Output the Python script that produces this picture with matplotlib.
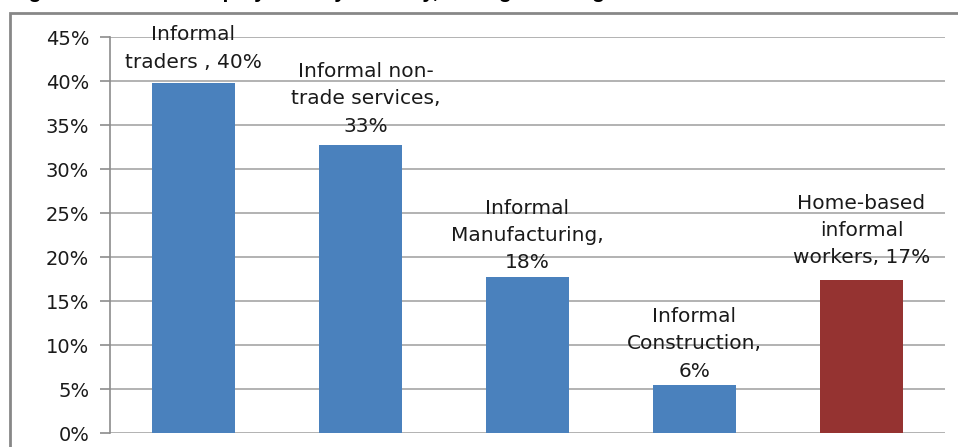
import matplotlib.pyplot as plt
from matplotlib.patches import Rectangle
from matplotlib.ticker import PercentFormatter

# data
categories = ['Informal\ntraders , 40%', 'Informal non-\ntrade services,\n33%',
              'Informal\nManufacturing,\n18%', 'Informal\nConstruction,\n6%',
              'Home-based\ninformal\nworkers, 17%']
values = [0.398, 0.327, 0.177, 0.054, 0.174]
bar_colors = ['#4a81bd', '#4a81bd', '#4a81bd', '#4a81bd', '#953331']
yticks = [0, 0.05, 0.10, 0.15, 0.20, 0.25, 0.30, 0.35, 0.40, 0.45]

fig = plt.figure(figsize=(9.58, 4.47), dpi=100)
ax = fig.add_axes([0.1148, 0.0313, 0.8716, 0.8857])

x = range(len(values))
ax.bar(x, values, width=0.5, color=bar_colors, zorder=3)
ax.set_xlim(-0.5, len(values) - 0.5)
ax.set_ylim(0, 0.45)
ax.set_yticks(yticks)
ax.yaxis.set_major_formatter(PercentFormatter(1.0, decimals=0))
ax.set_xticks([])
ax.grid(axis='y', color='#a6a6a6', linewidth=1.2, zorder=0)
for s in ['top', 'right', 'bottom']:
	ax.spines[s].set_visible(False)
ax.spines['left'].set_color('#8c8c8c')
ax.spines['left'].set_linewidth(1.2)
ax.tick_params(axis='y', length=7, width=1.2, color='#8c8c8c',
               labelsize=14, labelcolor='#1a1a1a', pad=8)

# labels above bars (small per-bar tweaks to follow the original)
dx = [0, 4, 0, 0, 0]
dy = [8, 7, 3.5, 3.5, 9]
for i, (lab, v) in enumerate(zip(categories, values)):
	ax.annotate(lab, (i, v), xytext=(dx[i], dy[i]), textcoords='offset points',
	            ha='center', va='bottom', fontsize=14.5, color='#1a1a1a',
	            linespacing=1.56, zorder=4)

# outer chart frame, partly cut off by the image edge
fig.patches.append(Rectangle((10 / 958, -0.2), 1.2, 1 - 13 / 447 + 0.2,
                             transform=fig.transFigure, fill=False,
                             edgecolor='#878787', linewidth=2))

# title, mostly cropped off at the top in the original
fig.text(10 / 958, 1 + 1.5 / 447,
         'Figure 3: Informal employment by industry, averages for eight African cities',
         fontsize=15, fontweight='bold', va='baseline', ha='left',
         family='Liberation Sans')

plt.savefig('out.png', dpi=100)
